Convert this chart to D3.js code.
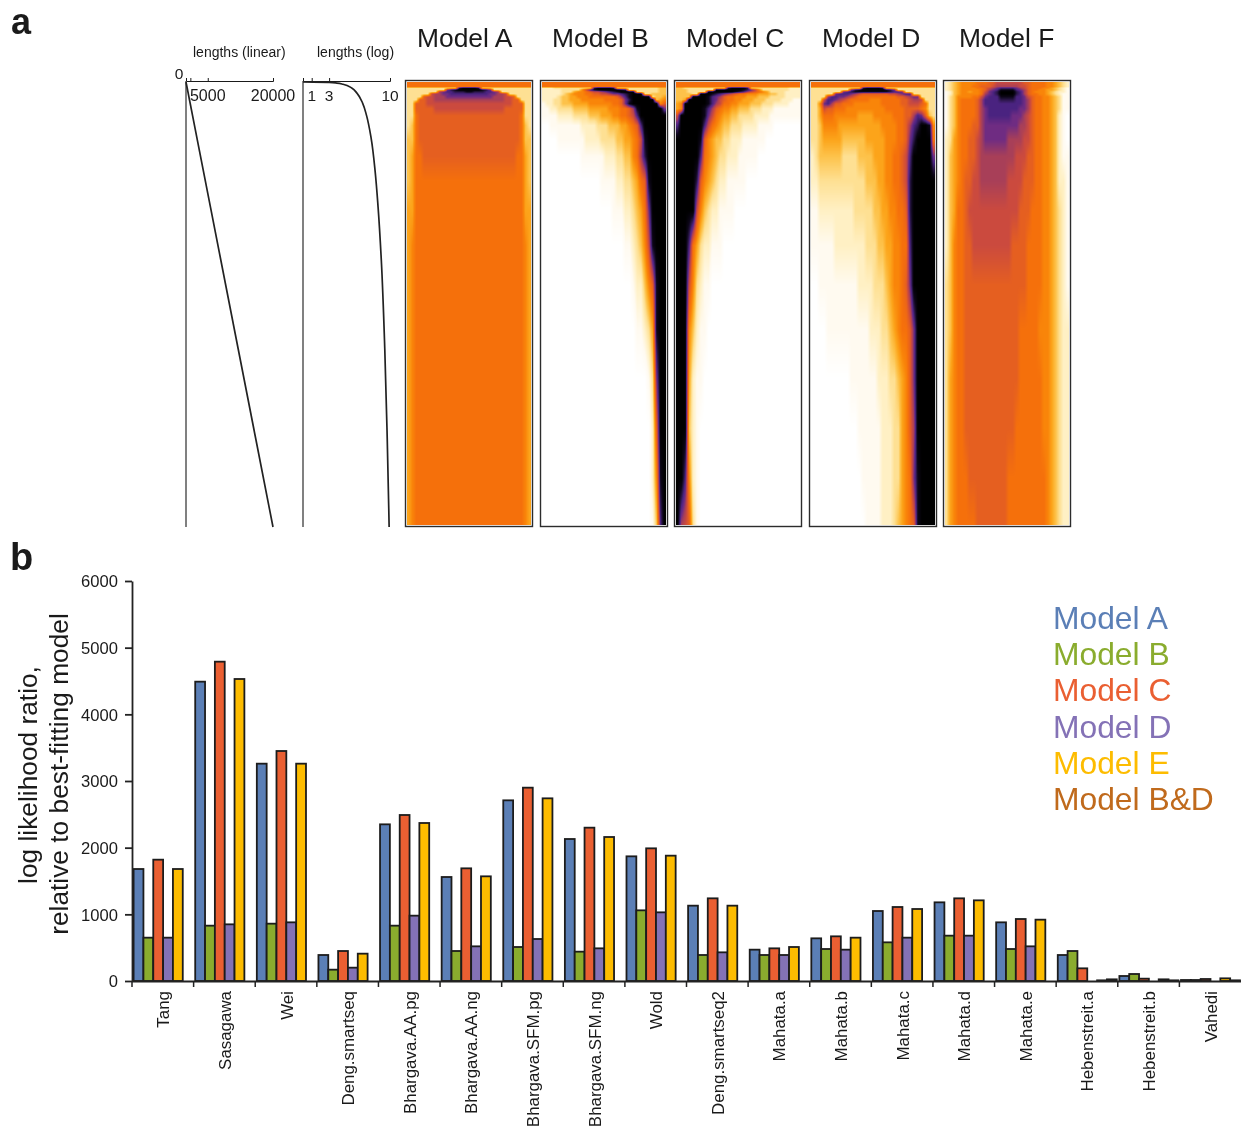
<!DOCTYPE html>
<html>
<head>
<meta charset="utf-8">
<script src="https://cdnjs.cloudflare.com/ajax/libs/d3/7.8.5/d3.min.js"></script>
<style>
    html, body { margin: 0; padding: 0; background: #fff; overflow: hidden; }
    #chart { position: relative; width: 1241px; height: 1131px; }
    #chart canvas { position: absolute; }
    #chart svg { position: absolute; left: 0; top: 0; }
    text { font-family: "Liberation Sans", Arial, sans-serif; fill: #1a1a1a; }
</style>
</head>
<body>
<div id="chart"></div>
<script>
// Panel b values
const datasets = ['Tang', 'Sasagawa', 'Wei', 'Deng.smartseq', 'Bhargava.AA.pg', 'Bhargava.AA.ng', 'Bhargava.SFM.pg', 'Bhargava.SFM.ng', 'Wold', 'Deng.smartseq2', 'Mahata.a', 'Mahata.b', 'Mahata.c', 'Mahata.d', 'Mahata.e', 'Hebenstreit.a', 'Hebenstreit.b', 'Vahedi'];
const modelNames = ['Model A', 'Model B', 'Model C', 'Model D', 'Model E', 'Model B&D'];
const modelColors = ['#5b7fb6', '#8aac2e', '#ea5f32', '#8472b6', '#fdbc00', '#c06a1c'];
const modelAValues = [1680, 4490, 3260, 390, 2350, 1560, 2710, 2130, 1870, 1130, 470, 640, 1050, 1180, 880, 390, 75, 15];
const modelBValues = [650, 830, 860, 170, 830, 450, 510, 440, 1060, 390, 390, 480, 580, 680, 480, 450, 105, 15];
const modelCValues = [1820, 4790, 3450, 450, 2490, 1690, 2900, 2300, 1990, 1240, 490, 670, 1110, 1240, 930, 190, 35, 30];
const modelDValues = [650, 850, 880, 200, 980, 520, 630, 490, 1030, 430, 390, 470, 650, 680, 520, 0, 0, 0];
const modelEValues = [1680, 4530, 3260, 410, 2370, 1570, 2740, 2160, 1880, 1130, 510, 650, 1080, 1210, 920, 10, 25, 40];
const modelBDValues = [0, 0, 0, 0, 0, 0, 0, 0, 0, 0, 0, 0, 0, 0, 0, 25, 10, 10];
const yTicks = [0, 1000, 2000, 3000, 4000, 5000, 6000];

// Panel a: gene lengths down the rows, linear and natural log
const curveLengths = [1, 20, 50, 100, 270, 500, 945, 1500, 2520, 4050, 5625, 8000, 12000, 16000, 20000];
const curveLogs = [0, 3, 3.9, 4.6, 5.6, 6.2, 6.85, 7.3, 7.83, 8.3, 8.63, 9, 9.4, 9.68, 9.9];
const linearTicks = [0, 1000, 5000, 20000];
const linearLabels = [5000, 20000];
const logTicks = [0, 1, 3, 10];
const logLabels = [1, 3, 10];

// Heatmap cells are hex levels, 0 = white ... f = black. One string per row (32 cells,
// grouped by 8), rows sit at these gene lengths, more of them near the top where it changes fast
const rowLengths = [0, 222, 267, 356, 445, 534, 668, 801, 979, 1202, 1513, 1958, 2581, 3338, 4450, 5785, 7343, 9123, 11125, 13350, 15575, 17800, 19910];
const levelColors = ['#ffffff', '#fffaf0', '#fff0c4', '#fee093', '#fdc24a', '#fca41a', '#f98509', '#f5700b', '#e55f20', '#cb4a3e', '#a83f58', '#6f2c82', '#4a2380', '#2a1648', '#0c0618', '#000000'];

const modelARows = [
    '77777777 77777777 77777777 77777777',
    '77777777 77777777 77777777 77777777',
    '33333333 33333dff ffd33333 33333333',
    '33333333 33bdefff fffedb33 33333333',
    '33333333 abccddde edddccba 33333333',
    '3333339a abbccccc cccccbba a9333333',
    '3333899a aabbbbbb bbbbbbaa a9983333',
    '3338899a aaaaaaaa aaaaaaaa a9988333',
    '33888999 99999999 99999999 99988833',
    '33888889 99999999 99999999 98888833',
    '33788888 88888888 88888888 88888733',
    '34788888 88888888 88888888 88888743',
    '44788888 88888888 88888888 88888744',
    '45778888 88888888 88888888 88887754',
    '45777777 77777777 77777777 77777754',
    '55777777 77777777 77777777 77777755',
    '56777777 77777777 77777777 77777765',
    '56777777 77777777 77777777 77777765',
    '56777777 77777777 77777777 77777765',
    '56777777 77777777 77777777 77777765',
    '56777777 77777777 77777777 77777765',
    '56777777 77777777 77777777 77777765',
    '56777777 77777777 77777777 77777765'
];
const modelBRows = [
    '77777777 77777777 77777777 77777777',
    '77777777 77777777 77777777 77777777',
    '22233333 33333dff ffd33333 33333344',
    '22222333 3369ceff ffffed33 33333344',
    '22222333 5667899a bcdeffff 33333344',
    '22222345 66677889 9abbcdef ff334444',
    '22223445 56667777 7778acef ffff3445',
    '22233445 55666666 77778bdf fffff456',
    '12233444 55556666 66778bef ffffff68',
    '11223333 44445555 5666778a effffffb',
    '11112222 33334445 55667789 cfffffff',
    '00111111 11222233 34445567 8cffffff',
    '00001111 11122223 33344556 79efffff',
    '00000000 00111111 22233446 7adfffff',
    '00000000 00000001 11122334 578effff',
    '00000000 00000000 00111223 457bffff',
    '00000000 00000000 00000112 3469efff',
    '00000000 00000000 00000001 22468eff',
    '00000000 00000000 00000000 11235eff',
    '00000000 00000000 00000000 00013bff',
    '00000000 00000000 00000000 000028ff',
    '00000000 00000000 00000000 000026ef',
    '00000000 00000000 00000000 000014cf'
];
const modelCRows = [
    '77777777 77777777 77777777 77777777',
    '77777777 77777777 77777777 77777777',
    '44333333 33333dff ffd33333 33333222',
    '44433333 33ffffff fedb9633 33333222',
    '44433333 fffffffe dca98765 33332222',
    '444433ff fedcba98 77666555 44332222',
    '4444ffff ecba8776 66555444 33332222',
    '445fffff ecb98776 65554443 33322211',
    '56ffffff eca97766 55544433 32222111',
    '56fffffe ca876655 44433322 21111111',
    '9ffffffe b9765544 33332222 11111111',
    'cffffffc 97654433 32222111 10000000',
    'ffffffe8 65443322 21111110 00000000',
    'ffffffc7 65433222 11111000 00000000',
    'fffffd86 54322111 11000000 00000000',
    'fffff964 32211110 00000000 00000000',
    'fffc7532 21110000 00000000 00000000',
    'fff96321 10000000 00000000 00000000',
    'fff64211 00000000 00000000 00000000',
    'fff52110 00000000 00000000 00000000',
    'fff42100 00000000 00000000 00000000',
    'ffc62100 00000000 00000000 00000000',
    'fa983100 00000000 00000000 00000000'
];
const modelDRows = [
    '77777777 77777777 77777777 77777777',
    '77777777 77777777 77777777 77777777',
    '33333333 33333dff ffd33333 33333333',
    '33333333 33bdefff fffedb33 33333333',
    '33333333 bcdeeeee eeeedccb 33333333',
    '333333bc ccba9888 888899ab cc333333',
    '3333accb ba987777 77777788 9abb3333',
    '3339ccba 98777776 66777778 89aa9333',
    '336bca88 77766666 66777778 89998733',
    '33598877 76666666 66677777 88887633',
    '33577766 66665555 66666777 88acb843',
    '33466665 55555555 55666677 8acdffe6',
    '33455555 44444455 55566677 8bdffff7',
    '23444444 33334444 55566778 9cfffffb',
    '22333333 33333344 45566778 9dffffff',
    '11222222 22233333 44556677 8dffffff',
    '11111122 22222233 34455667 7cffffff',
    '00111111 11112222 33345667 8bffffff',
    '00001111 11111112 22334567 78bfffff',
    '00000000 00111111 12223345 68bfffff',
    '00000000 00001111 11222335 68afffff',
    '00000000 00000111 11222335 67beffff',
    '00000000 00000011 11222345 678effff'
];
const modelFRows = [
    '23456666 77788999 99998877 77665432',
    '23456667 78889aaa aaa99877 77665432',
    '23456666 7789abcc ccba9877 76654321',
    '23456666 678abcee eecba877 66554321',
    '12456656 679bcdff ffdca876 66543221',
    '12456666 67abcdff ffdca877 66543211',
    '13466667 79bcccee eeccb987 76654311',
    '13467777 8accccdd ddccba87 76654311',
    '13467777 8acccccc ccccba87 76654311',
    '13467777 8abccccc cccbba87 76654311',
    '13467777 8abccccc cbbba987 76654210',
    '13467778 8abbbbbb bbbaa987 76654210',
    '23567788 9abbbbbb aaaa9987 76654210',
    '24567788 9aaaaaaa aa999887 76654211',
    '24567889 9aaaaaaa 99998887 76654221',
    '24577899 99999999 99988877 76654321',
    '24677889 99999999 98888777 76654321',
    '34677888 88888888 88888777 76654321',
    '34677888 88888888 88877777 66654322',
    '35677888 88888888 88877777 76654322',
    '35677888 88888888 88777777 76654322',
    '35677788 88888888 77777777 77654322',
    '35677777 88888888 77777777 77654322'
];
const panelTitles = ['Model A', 'Model B', 'Model C', 'Model D', 'Model F'];
const panelRows = [modelARows, modelBRows, modelCRows, modelDRows, modelFRows];

const root = d3.select('#chart');
const svg = root.append('svg').attr('width', 1241).attr('height', 1131);

// ---- panel a ----
const lengthY = d3.scaleLinear().domain([0, 20000]).range([82, 527]);
const linearX = d3.scaleLinear().domain([0, 20000]).range([186, 273]);
const logX = d3.scaleLinear().domain([0, 10]).range([303, 390]);
const panelX = d3.scaleBand().domain(panelTitles).range([405, 1077.5]);
const frameWidth = 127;
const heatTop = 82, heatBottom = 525;

const levelScale = d3.scaleLinear().domain(d3.range(16)).range(levelColors);
const levelTable = d3.range(0, 15.001, 15 / 600).map(v => d3.rgb(levelScale(v)));

function level(row, col) {
    return parseInt(row.charAt(col), 16);
}

// Paint one heatmap, smoothing between the read cells like the published image
function drawHeat(title, rawRows) {
    const rows = rawRows.map(r => r.replace(/ /g, ''));
    const left = Math.round(panelX(title)) + 2;
    const w = frameWidth - 3;
    const h = heatBottom - heatTop;
    const colX = d3.scaleLinear().domain([0, 31]).range([1.5, w - 1.5]);
    const canvas = root.insert('canvas', 'svg')
        .attr('width', w).attr('height', h)
        .style('left', left + 'px').style('top', heatTop + 'px');
    const ctx = canvas.node().getContext('2d');
    const img = ctx.createImageData(w, h);
    for (let py = 0; py < h; py++) {
        const len = lengthY.invert(heatTop + py + 0.5);
        const r0 = Math.min(Math.max(d3.bisectRight(rowLengths, len) - 1, 0), rows.length - 1);
        const r1 = Math.min(r0 + 1, rows.length - 1);
        const ty = r1 === r0 ? 0 : Math.min((len - rowLengths[r0]) / (rowLengths[r1] - rowLengths[r0]), 1);
        for (let px = 0; px < w; px++) {
            const cf = Math.min(Math.max(colX.invert(px + 0.5), 0), 31);
            const c0 = Math.floor(cf), c1 = Math.min(c0 + 1, 31), tx = cf - c0;
            const top = level(rows[r0], c0) * (1 - tx) + level(rows[r0], c1) * tx;
            const bot = level(rows[r1], c0) * (1 - tx) + level(rows[r1], c1) * tx;
            const v = top * (1 - ty) + bot * ty;
            const col = levelTable[Math.round(v * 40)];
            const i = (py * w + px) * 4;
            img.data[i] = col.r; img.data[i + 1] = col.g; img.data[i + 2] = col.b; img.data[i + 3] = 255;
        }
    }
    ctx.putImageData(img, 0, 0);
}
panelTitles.forEach((t, i) => drawHeat(t, panelRows[i]));

svg.selectAll('.frame').data(panelTitles).join('rect')
    .attr('class', 'frame')
    .attr('x', d => Math.round(panelX(d)) + 0.5).attr('y', 80.5)
    .attr('width', frameWidth).attr('height', 446)
    .attr('fill', 'none').attr('stroke', '#2c2c2c').attr('stroke-width', 1.4);

svg.selectAll('.panel-title').data(panelTitles).join('text')
    .attr('class', 'panel-title')
    .attr('x', (d, i) => [417, 552, 686, 822, 959][i]).attr('y', 47)
    .attr('font-size', 26.4).text(d => d);

// length axes
const linearAxis = d3.axisTop(linearX).tickValues(linearTicks).tickSize(3).tickFormat('');
const logAxis = d3.axisTop(logX).tickValues(logTicks).tickSize(3).tickFormat('');
[[linearAxis, linearX], [logAxis, logX]].forEach(([axis, scale]) => {
    const g = svg.append('g').attr('transform', 'translate(0,81)').call(axis);
    g.selectAll('path,line').attr('stroke', '#1a1a1a');
    svg.append('line')
        .attr('x1', scale(0)).attr('x2', scale(0)).attr('y1', 81).attr('y2', 527)
        .attr('stroke', '#4a4a4a').attr('stroke-width', 1.4);
});

svg.append('path')
    .attr('d', d3.line().x(d => linearX(d)).y(d => lengthY(d))(curveLengths))
    .attr('fill', 'none').attr('stroke', '#222').attr('stroke-width', 1.7);
svg.append('path')
    .attr('d', d3.line().curve(d3.curveMonotoneY).x((d, i) => logX(curveLogs[i])).y(d => lengthY(d))(curveLengths))
    .attr('fill', 'none').attr('stroke', '#222').attr('stroke-width', 1.7);

svg.selectAll('.lin-label').data(linearLabels).join('text')
    .attr('class', 'lin-label')
    .attr('x', d => linearX(d)).attr('y', 101)
    .attr('text-anchor', 'middle').attr('font-size', 16).text(d => d);
svg.selectAll('.log-label').data(logLabels).join('text')
    .attr('class', 'log-label')
    .attr('x', d => logX(d)).attr('y', 101)
    .attr('text-anchor', 'middle').attr('font-size', 15.5).text(d => d);
svg.append('text').attr('x', 179).attr('y', 79).attr('text-anchor', 'middle').attr('font-size', 15.5).text('0');
svg.append('text').attr('x', 193).attr('y', 57).attr('font-size', 14).text('lengths (linear)');
svg.append('text').attr('x', 317).attr('y', 57).attr('font-size', 14).text('lengths (log)');

svg.append('text').attr('x', 11).attr('y', 34).attr('font-size', 36).attr('font-weight', 'bold').text('a');
svg.append('text').attr('x', 10).attr('y', 570).attr('font-size', 38).attr('font-weight', 'bold').text('b');

// ---- panel b ----
const modelValues = [modelAValues, modelBValues, modelCValues, modelDValues, modelEValues, modelBDValues];
const groupX = d3.scaleBand().domain(datasets).range([132, 1241]);
const barX = d3.scaleBand().domain(modelNames).range([1.6, 60.6]);
const barY = d3.scaleLinear().domain([0, 6000]).range([981, 581]);

const bars = svg.append('g').selectAll('g').data(datasets).join('g')
    .attr('transform', d => `translate(${groupX(d)},0)`);
bars.selectAll('rect')
    .data((d, i) => modelNames.map((m, j) => ({ model: m, value: modelValues[j][i], color: modelColors[j] })).filter(b => b.value > 0))
    .join('rect')
    .attr('x', d => barX(d.model))
    .attr('width', barX.bandwidth())
    .attr('y', d => barY(d.value))
    .attr('height', d => barY(0) - barY(d.value))
    .attr('fill', d => d.color)
    .attr('stroke', '#1c1c1c').attr('stroke-width', 1.8);

const yAxisG = svg.append('g').attr('transform', 'translate(132,0)')
    .call(d3.axisLeft(barY).tickValues(yTicks).tickFormat(d3.format('d')).tickSize(7).tickSizeOuter(0).tickPadding(7));
yAxisG.selectAll('path,line').attr('stroke', '#222').attr('stroke-width', 1.8);
yAxisG.selectAll('text').attr('font-size', 16.6).attr('fill', '#1a1a1a').attr('font-family', '"Liberation Sans", Arial, sans-serif').attr('dy', '0.36em');

svg.append('line')
    .attr('x1', 132).attr('x2', 1241).attr('y1', 981.5).attr('y2', 981.5)
    .attr('stroke', '#222').attr('stroke-width', 1.8);
svg.selectAll('.group-tick').data(datasets).join('line')
    .attr('class', 'group-tick')
    .attr('x1', d => groupX(d)).attr('x2', d => groupX(d)).attr('y1', 981).attr('y2', 987)
    .attr('stroke', '#222').attr('stroke-width', 1.5);
svg.selectAll('.group-label').data(datasets).join('text')
    .attr('class', 'group-label')
    .attr('transform', d => `translate(${groupX(d) + groupX.bandwidth() / 2 + 6.5},991) rotate(-90)`)
    .attr('text-anchor', 'end').attr('font-size', 16.9).text(d => d);

svg.append('text').attr('transform', 'translate(37,775) rotate(-90)')
    .attr('text-anchor', 'middle').attr('font-size', 26.3).text('log likelihood ratio,');
svg.append('text').attr('transform', 'translate(68,774) rotate(-90)')
    .attr('text-anchor', 'middle').attr('font-size', 26.3).text('relative to best-fitting model');

svg.selectAll('.legend').data(modelNames).join('text')
    .attr('class', 'legend')
    .attr('x', 1053).attr('y', (d, i) => 629 + i * 36.2)
    .attr('font-size', 31.8)
    .style('fill', (d, i) => modelColors[i])
    .text(d => d);
</script>
</body>
</html>
